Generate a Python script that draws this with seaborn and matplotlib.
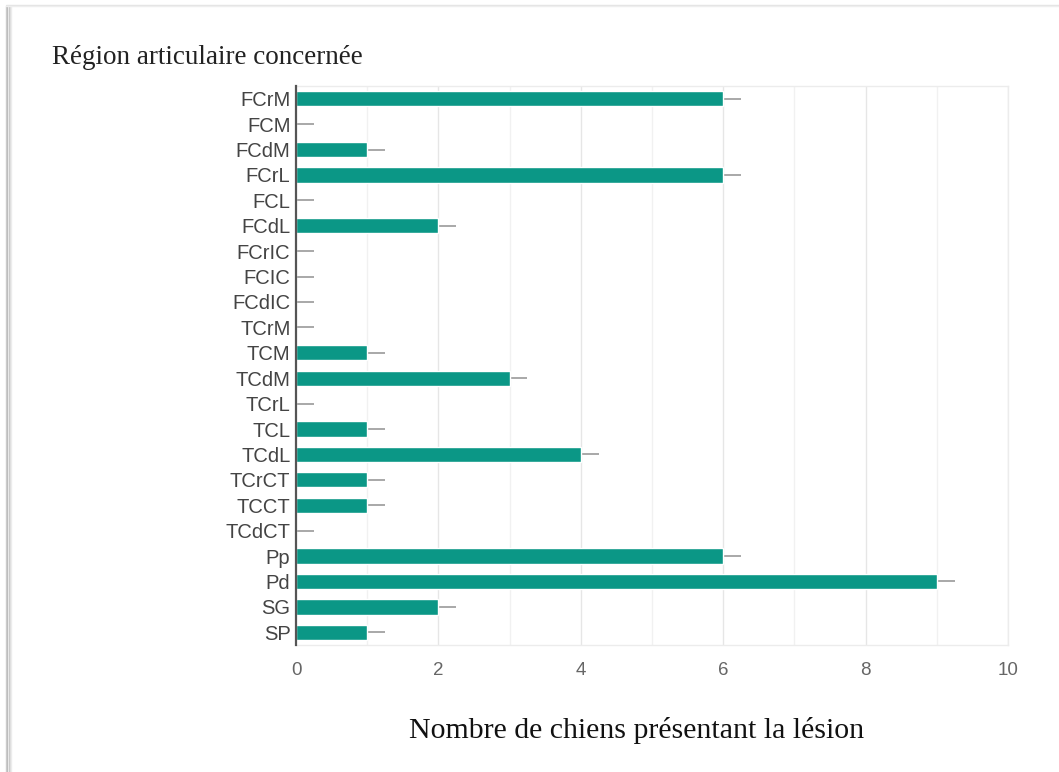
import matplotlib
matplotlib.use("Agg")
import matplotlib.pyplot as plt
import seaborn as sns
import pandas as pd
from matplotlib.lines import Line2D

categories = ["FCrM", "FCM", "FCdM", "FCrL", "FCL", "FCdL", "FCrIC", "FCIC", "FCdIC",
              "TCrM", "TCM", "TCdM", "TCrL", "TCL", "TCdL", "TCrCT", "TCCT", "TCdCT",
              "Pp", "Pd", "SG", "SP"]
values = [6, 0, 1, 6, 0, 2, 0, 0, 0, 0, 1, 3, 0, 1, 4, 1, 1, 0, 6, 9, 2, 1]
whisker = [0.25] * len(categories)
x_ticks = [0, 2, 4, 6, 8, 10]

title = "Région articulaire concernée"
xlabel = "Nombre de chiens présentant la lésion"

sns.set_theme(style="white")
plt.rcParams["font.family"] = ["Liberation Sans", "DejaVu Sans"]

df = pd.DataFrame({"cat": categories, "val": values})

fig = plt.figure(figsize=(10.59, 7.72), dpi=100)
ax = fig.add_axes([296 / 1059, 1 - 645 / 772, (1008 - 296) / 1059, (645 - 86) / 772])

# grid lines
for g in range(1, 11):
    ax.axvline(g, color="#e6e6e6" if g % 2 == 0 else "#f1f1f1", lw=1.0, zorder=0)

sns.barplot(data=df, x="val", y="cat", orient="h", color="#0b9786",
            width=0.6, errorbar=None, ax=ax, zorder=2, saturation=1)

ypos = list(range(len(categories)))
ax.errorbar(values, ypos, xerr=[[0] * len(values), whisker], fmt="none",
            ecolor="#a8a8a8", elinewidth=1.4, capsize=0, zorder=1)

ax.set_xlim(0, 10)
ax.set_ylim(len(categories) - 0.5, -0.5)
ax.set_xticks(x_ticks)
ax.set_xticklabels([str(t) for t in x_ticks])
ax.set_xlabel("")
ax.set_ylabel("")
ax.tick_params(axis="both", length=0)
ax.tick_params(axis="y", labelsize=14.5, labelcolor="#444444", pad=4)
ax.tick_params(axis="x", labelsize=13.5, labelcolor="#666666", pad=12)

for s in ["top", "right", "bottom"]:
    ax.spines[s].set_color("#ececec")
    ax.spines[s].set_linewidth(1.0)
ax.spines["left"].set_color("#555555")
ax.spines["left"].set_linewidth(1.6)
ax.spines["left"].set_zorder(5)

fig.text(52 / 1059, 1 - 58 / 772, title, fontsize=19.5, family="Liberation Serif",
         color="#222222", ha="left", va="center")
fig.text(637 / 1059, 1 - 730 / 772, xlabel, fontsize=21.5, family="Liberation Serif",
         color="#111111", ha="center", va="center")

# page frame with shadow
for i, c in enumerate(["#d0d0d0", "#bdbdbd", "#c8c8c8", "#dcdcdc", "#ececec"]):
    x = (6 + i * 1.3) / 1059
    fig.add_artist(Line2D([x, x], [0, 1 - 6 / 772], transform=fig.transFigure,
                          color=c, lw=1.0))
for i, c in enumerate(["#e4e4e4", "#eeeeee"]):
    y = 1 - (5 + i * 1.3) / 772
    fig.add_artist(Line2D([6 / 1059, 1], [y, y], transform=fig.transFigure,
                          color=c, lw=1.0))

fig.savefig("out.png", dpi=100, facecolor="white")
